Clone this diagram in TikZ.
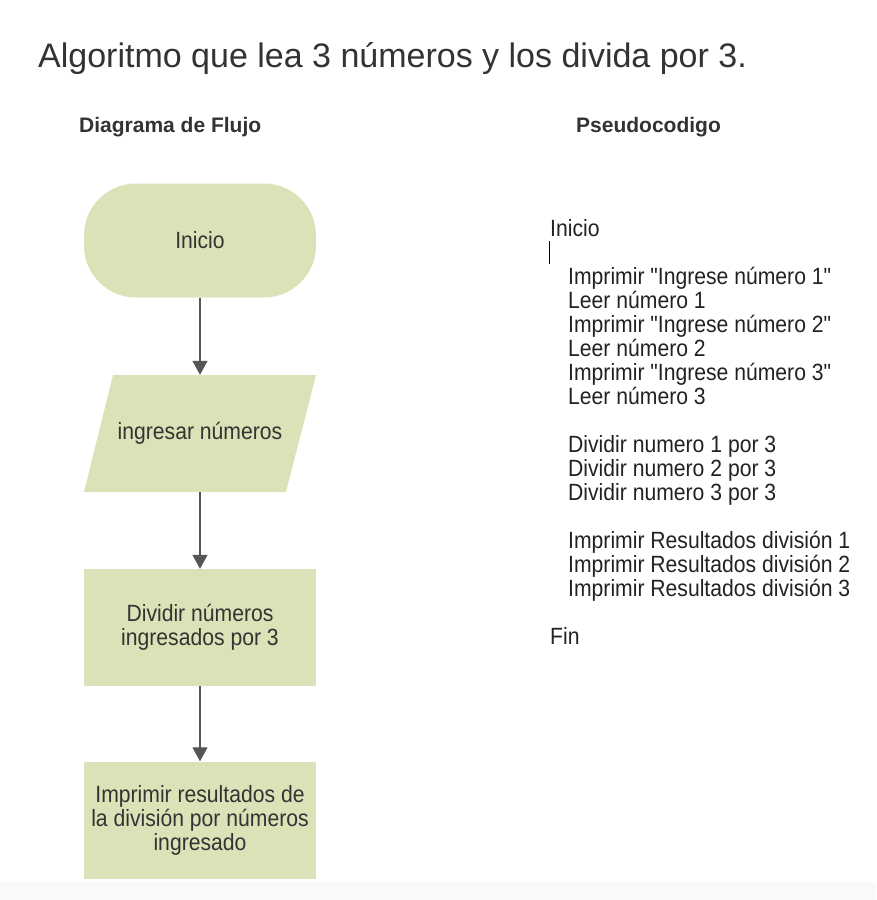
\documentclass[tikz,border=0pt]{standalone}
\usepackage{fontspec}
\setmainfont{Liberation Sans}
\newfontfamily\cuerpo[FakeStretch=0.9]{Liberation Sans}
\usetikzlibrary{arrows.meta}
\usepackage{xcolor}
\definecolor{verde}{RGB}{220,226,183}
\definecolor{texto}{RGB}{51,51,51}
\definecolor{pseudo}{RGB}{34,34,34}
\definecolor{flechagris}{RGB}{85,85,85}
\definecolor{franja}{RGB}{249,249,249}

\tikzset{
  flujo/.style={minimum width=232pt, minimum height=117pt, inner sep=0pt, align=center,
    text=texto, font=\cuerpo\fontsize{23.5}{24}\selectfont},
  inicio/.style={flujo, minimum height=114pt, fill=verde, rounded corners=52pt},
  proceso/.style={flujo, fill=verde},
  entrada/.style={flujo, path picture={\fill[verde]
    ([xshift=29pt]path picture bounding box.north west) -- (path picture bounding box.north east)
    -- ([xshift=-30pt]path picture bounding box.south east) -- (path picture bounding box.south west) -- cycle;}},
  flecha/.style={draw=flechagris, line width=1.3pt, -{Triangle[width=15pt,length=14pt]}},
  linea/.style={anchor=base west, inner sep=0pt, text=pseudo, font=\cuerpo\fontsize{23.5}{24}\selectfont},
  titulo/.style={anchor=base west, inner sep=0pt, text=texto},
}

\begin{document}
\begin{tikzpicture}[x=1pt,y=-1pt]
\useasboundingbox (0,0) rectangle (876,900);
\fill[white] (0,0) rectangle (876,882);
\fill[franja] (0,882) rectangle (876,900);

\node[titulo, font=\fontsize{34}{40}\selectfont] (tit) at (38,67){Algoritmo que lea 3 números y los divida por 3.};
\node[titulo, font=\bfseries\fontsize{21}{25}\selectfont] (hflujo) at (79,132){Diagrama de Flujo};
\node[titulo, font=\bfseries\fontsize{21}{25}\selectfont] (hpseudo) at (576,132){Pseudocodigo};

% diagrama de flujo
\node[inicio] (ini) at (200,240.5){Inicio};
\node[entrada] (ing) at (200,433.5){ingresar números};
\node[proceso] (div) at (200,627.5){Dividir números\\ingresados por 3};
\node[proceso] (imp) at (200,820){Imprimir resultados de\\la división por números\\ingresado};
\draw[flecha] (ini)--(ing);
\draw[flecha] (ing)--(div);
\draw[flecha] (div)--(imp);

% pseudocodigo
\node[linea] (p0) at (550,236){Inicio};
\draw[black, line width=1.5pt] (549.5,241)--(549.5,264);
\node[linea] (p1) at (568,284){Imprimir "Ingrese número 1"};
\node[linea] (p2) at (568,308){Leer número 1};
\node[linea] (p3) at (568,332){Imprimir "Ingrese número 2"};
\node[linea] (p4) at (568,356){Leer número 2};
\node[linea] (p5) at (568,380){Imprimir "Ingrese número 3"};
\node[linea] (p6) at (568,404){Leer número 3};
\node[linea] (p7) at (568,452){Dividir numero 1 por 3};
\node[linea] (p8) at (568,476){Dividir numero 2 por 3};
\node[linea] (p9) at (568,500){Dividir numero 3 por 3};
\node[linea] (p10) at (568,548){Imprimir Resultados división 1};
\node[linea] (p11) at (568,572){Imprimir Resultados división 2};
\node[linea] (p12) at (568,596){Imprimir Resultados división 3};
\node[linea] (p13) at (550,644){Fin};
\end{tikzpicture}
\end{document}
